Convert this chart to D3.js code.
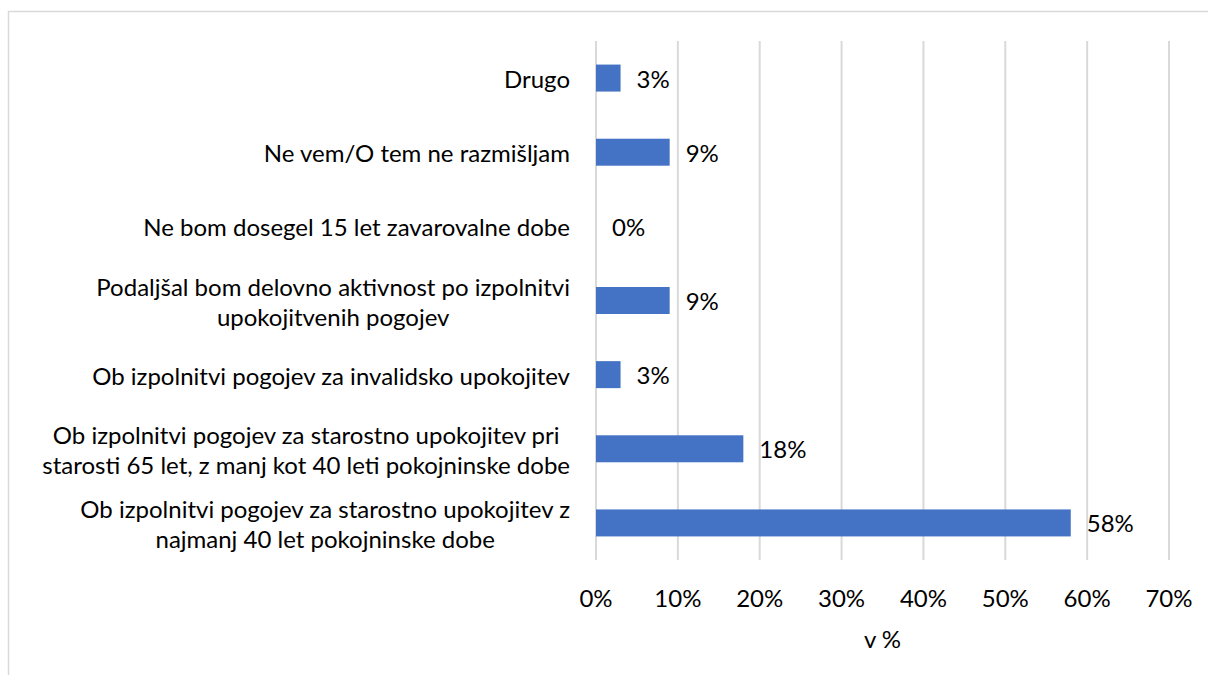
<!DOCTYPE html>
<html>
<head>
<meta charset="utf-8">
<script src="https://cdn.jsdelivr.net/npm/d3@7"></script>
<style>
    html, body { margin: 0; padding: 0; background: #ffffff; }
</style>
</head>
<body>
<div id="chart"></div>
<script>
// categories from top to bottom, each one split into its wrapped lines
const categories = [
    ["Drugo"],
    ["Ne vem/O tem ne razmišljam"],
    ["Ne bom dosegel 15 let zavarovalne dobe"],
    ["Podaljšal bom delovno aktivnost po izpolnitvi", "upokojitvenih pogojev"],
    ["Ob izpolnitvi pogojev za invalidsko upokojitev"],
    ["Ob izpolnitvi pogojev za starostno upokojitev pri", "starosti 65 let, z manj kot 40 leti pokojninske dobe"],
    ["Ob izpolnitvi pogojev za starostno upokojitev z", "najmanj 40 let pokojninske dobe"]
];
const values = [3, 9, 0, 9, 3, 18, 58];
const xTicks = [0, 10, 20, 30, 40, 50, 60, 70];
const xTitle = "v %";

function drawViz(divId) {
    const fontFamily = "Lato, 'Open Sans', sans-serif";
    const fontSize = 24;
    const lineHeight = 30;
    const textPadding = 16;

    const margin = {top: 41, left: 596, right: 39, bottom: 115},
        width = 1208 - margin.left - margin.right,
        height = 675 - margin.top - margin.bottom;

    const svg = d3.select(divId)
        .append("svg")
            .attr("width", 1208)
            .attr("height", 675);

    // outer frame, only the top and left edges fall inside the picture
    svg.append("rect")
        .attr("x", 8.5)
        .attr("y", 11.5)
        .attr("width", 1300)
        .attr("height", 700)
        .attr("fill", "none")
        .attr("stroke", "#d9d9d9")
        .attr("stroke-width", 1.5);

    const g = svg.append("g")
        .attr("transform", "translate(" + margin.left + "," + margin.top + ")");

    const x = d3.scaleLinear()
        .domain([0, 70])
        .range([0, width]);

    const y = d3.scaleBand()
        .domain(d3.range(categories.length))
        .range([0, height])
        .paddingInner(0.636)
        .paddingOuter(0.318);

    // gridlines
    g.selectAll(".grid")
        .data(xTicks)
        .join("line")
            .attr("class", "grid")
            .attr("x1", d => x(d))
            .attr("x2", d => x(d))
            .attr("y1", 0)
            .attr("y2", height)
            .attr("stroke", "#d9d9d9")
            .attr("stroke-width", 2);

    // bars
    g.selectAll(".bar")
        .data(values)
        .join("rect")
            .attr("class", "bar")
            .attr("x", x(0))
            .attr("y", (d, i) => y(i))
            .attr("width", d => x(d) - x(0))
            .attr("height", y.bandwidth())
            .attr("fill", "#4472c4");

    // data labels
    g.selectAll(".value")
        .data(values)
        .join("text")
            .attr("class", "value")
            .attr("x", d => x(d) + textPadding)
            .attr("y", (d, i) => y(i) + y.bandwidth() / 2)
            .style("dominant-baseline", "central")
            .style("font-family", fontFamily)
            .style("font-size", fontSize + "px")
            .style("fill", "#000000")
            .text(d => d + "%");

    // x tick labels
    g.selectAll(".tick-label")
        .data(xTicks)
        .join("text")
            .attr("class", "tick-label")
            .attr("x", d => x(d))
            .attr("y", 556)
            .style("text-anchor", "middle")
            .style("dominant-baseline", "central")
            .style("font-family", fontFamily)
            .style("font-size", fontSize + "px")
            .style("fill", "#000000")
            .text(d => d + "%");

    g.append("text")
        .attr("class", "x-title")
        .attr("x", width / 2)
        .attr("y", 597)
        .style("text-anchor", "middle")
        .style("dominant-baseline", "central")
        .style("font-family", fontFamily)
        .style("font-size", fontSize + "px")
        .style("fill", "#000000")
        .text(xTitle);

    // category labels: block right aligned, wrapped lines centered on each other
    const labelRight = -26;
    const labels = g.selectAll(".cat-label")
        .data(categories)
        .join("text")
            .attr("class", "cat-label")
            .attr("y", (d, i) => y(i) + y.bandwidth() / 2)
            .style("text-anchor", "middle")
            .style("dominant-baseline", "central")
            .style("font-family", fontFamily)
            .style("font-size", fontSize + "px")
            .style("fill", "#000000");

    labels.selectAll("tspan")
        .data(d => d)
        .join("tspan")
            .text(d => d);

    labels.each(function(d, i) {
        const node = d3.select(this);
        const spans = node.selectAll("tspan");
        let maxW = 0;
        spans.each(function() { maxW = Math.max(maxW, this.getComputedTextLength()); });
        const cx = labelRight - maxW / 2;
        const cy = y(i) + y.bandwidth() / 2;
        const n = d.length;
        spans
            .attr("x", cx)
            .attr("y", (t, j) => cy + (j - (n - 1) / 2) * lineHeight);
    });
}

drawViz("#chart");
</script>
</body>
</html>
